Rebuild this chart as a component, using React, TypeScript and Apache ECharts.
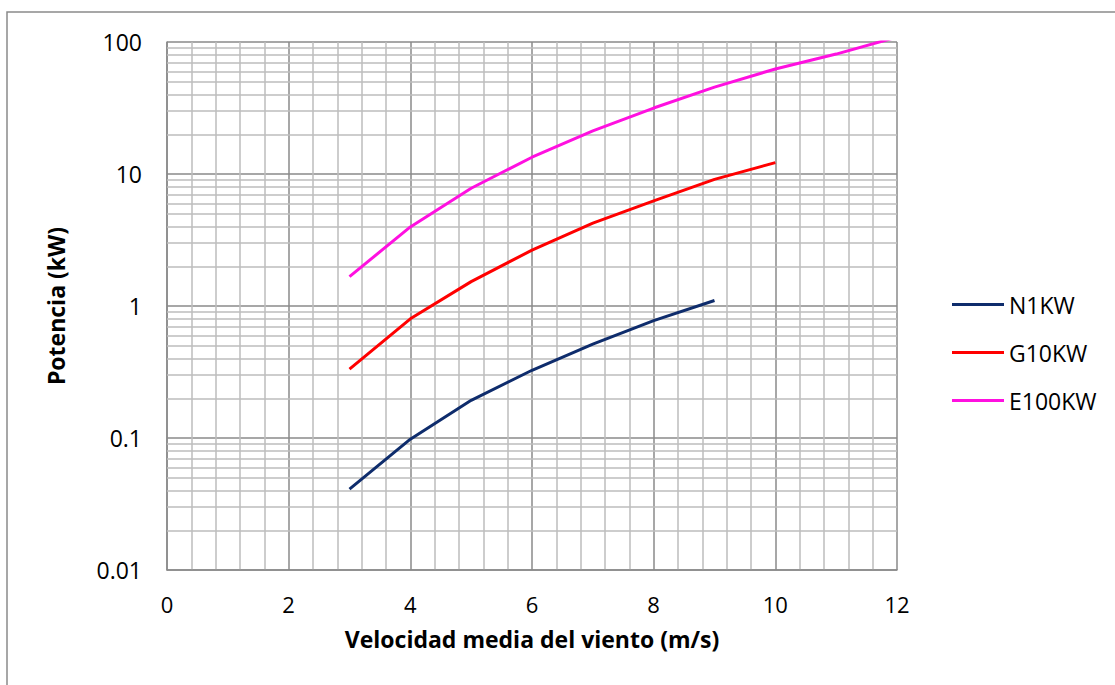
import React, { useEffect, useRef } from "react";
import * as echarts from "echarts";

const speeds = [3, 4, 5, 6, 7, 8, 9, 10, 11, 12];
const n1kw = [0.041, 0.098, 0.193, 0.326, 0.514, 0.775, 1.1];
const g10kw = [0.333, 0.8, 1.53, 2.65, 4.25, 6.25, 9.1, 12.2];
const e100kw = [1.67, 3.97, 7.8, 13.4, 21.2, 31.6, 45.5, 62.5, 81, 109];
const minorY = [
  0.02, 0.03, 0.04, 0.05, 0.06, 0.07, 0.08, 0.09,
  0.2, 0.3, 0.4, 0.5, 0.6, 0.7, 0.8, 0.9,
  2, 3, 4, 5, 6, 7, 8, 9,
  20, 30, 40, 50, 60, 70, 80, 90,
];
const seriesNames = ["N1KW", "G10KW", "E100KW"];
const seriesColors = ["#0e2c6c", "#ff0000", "#ff10e0"];

const FONT = "'Open Sans', 'Noto Sans', sans-serif";

function pairs(vals: number[]) {
  return vals.map((v, i) => [speeds[i], v]);
}

export default function App() {
  const ref = useRef<HTMLDivElement>(null);
  useEffect(() => {
    if (!ref.current) return;
    const chart = echarts.init(ref.current, undefined, { renderer: "svg" });
    const dataSets = [n1kw, g10kw, e100kw];
    chart.setOption({
      animation: false,
      backgroundColor: "#ffffff",
      graphic: [
        {
          type: "rect",
          shape: { x: 7, y: 12, width: 1130, height: 700 },
          style: { fill: "none", stroke: "#8a8a8a", lineWidth: 1.5 },
          silent: true,
        },
      ],
      grid: { left: 167, top: 42, right: 218, bottom: 115, containLabel: false },
      legend: {
        orient: "vertical",
        left: 947,
        top: 287,
        icon: "rect",
        itemWidth: 52,
        itemHeight: 3,
        itemGap: 23,
        data: seriesNames,
        textStyle: { fontFamily: FONT, fontSize: 23, color: "#000", lineHeight: 25 },
      },
      xAxis: {
        type: "value",
        min: 0,
        max: 12,
        interval: 2,
        name: "Velocidad media del viento (m/s)",
        nameLocation: "middle",
        nameGap: 56,
        nameTextStyle: { fontFamily: FONT, fontSize: 23, fontWeight: "bold", color: "#000", lineHeight: 26 },
        axisLabel: { fontFamily: FONT, fontSize: 22, color: "#000", margin: 22, lineHeight: 24 },
        axisTick: { show: false },
        axisLine: { show: true, lineStyle: { color: "#8a8a8a", width: 1.5 } },
        splitLine: { show: true, lineStyle: { color: "#8a8a8a", width: 1.5 } },
        minorTick: { show: false, splitNumber: 5 },
        minorSplitLine: { show: true, lineStyle: { color: "#bcbcbc", width: 1.5 } },
      },
      yAxis: {
        type: "log",
        logBase: 10,
        min: 0.01,
        max: 100,
        name: "Potencia (kW)",
        nameLocation: "middle",
        nameGap: 100,
        nameRotate: 90,
        nameTextStyle: { fontFamily: FONT, fontSize: 23, fontWeight: "bold", color: "#000" },
        axisLabel: {
          fontFamily: FONT,
          fontSize: 23,
          color: "#000",
          margin: 25,
          formatter: (v: number) => String(Number(v.toPrecision(3))),
        },
        axisTick: { show: false },
        axisLine: { show: true, lineStyle: { color: "#8a8a8a", width: 1.5 } },
        splitLine: { show: true, lineStyle: { color: "#8a8a8a", width: 1.5 } },
      },
      series: [
        {
          name: "minor",
          type: "line",
          data: [[3, 1]],
          symbol: "none",
          lineStyle: { width: 0, opacity: 0 },
          silent: true,
          z: 1,
          markLine: {
            silent: true,
            symbol: ["none", "none"],
            label: { show: false },
            z: 1,
            lineStyle: { color: "#bcbcbc", width: 1.5, type: "solid" },
            emphasis: { disabled: true },
            data: minorY.map((v) => ({ yAxis: v })),
          },
        },
        ...seriesNames.map((name, i) => ({
          name,
          type: "line",
          data: pairs(dataSets[i]),
          symbol: "none",
          showSymbol: false,
          clip: true,
          z: 10,
          color: seriesColors[i],
          lineStyle: { color: seriesColors[i], width: 3 },
        })),
      ],
    });
    return () => chart.dispose();
  }, []);
  return (
    <div
      ref={ref}
      style={{ position: "fixed", left: 0, top: 0, width: 1115, height: 685 }}
    />
  );
}
